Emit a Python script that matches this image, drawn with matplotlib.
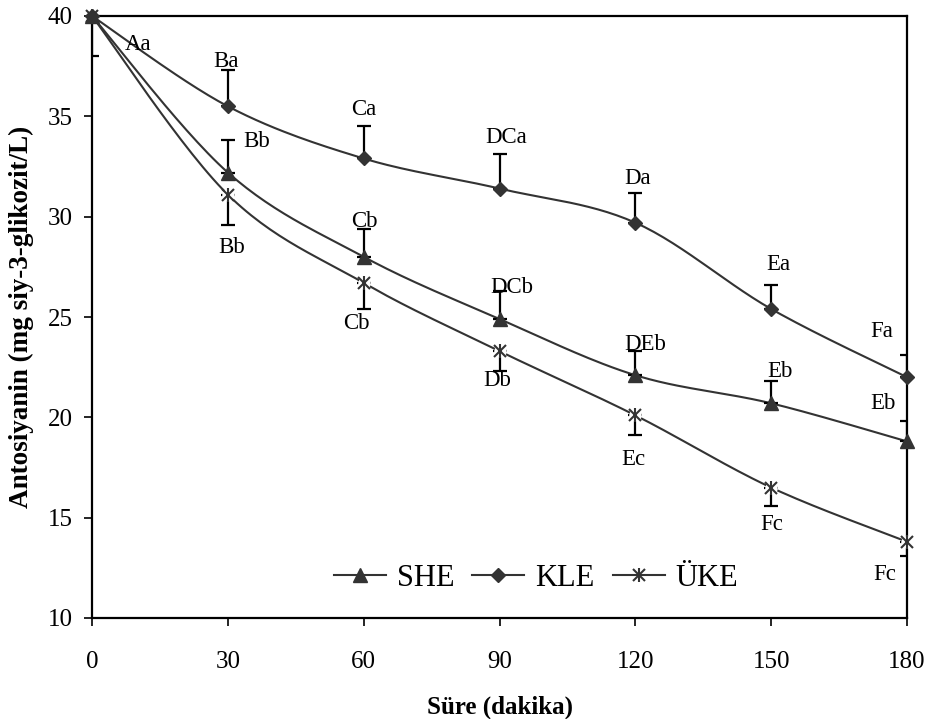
import numpy as np
import matplotlib
matplotlib.use("Agg")
import matplotlib.pyplot as plt
from matplotlib.lines import Line2D

plt.rcParams["font.family"] = ["Liberation Serif", "DejaVu Serif"]

# Sampling times (minutes) and anthocyanin content (mg cyanidin-3-glucoside / L)
time_min = [0, 30, 60, 90, 120, 150, 180]
she = [40.0, 32.2, 28.0, 24.9, 22.1, 20.7, 18.8]
kle = [40.0, 35.5, 32.9, 31.4, 29.7, 25.4, 22.0]
uke = [40.0, 31.1, 26.7, 23.3, 20.1, 16.5, 13.8]

# Standard deviations (SHE and KLE drawn upward, ÜKE drawn downward)
she_err = [0.0, 1.6, 1.4, 1.4, 1.2, 1.1, 1.0]
kle_err = [0.0, 1.8, 1.6, 1.7, 1.5, 1.2, 1.1]
uke_err = [2.0, 1.5, 1.3, 1.0, 1.0, 0.9, 0.7]

# Significance letters
she_letters = ["", "Bb", "Cb", "DCb", "DEb", "Eb", "Eb"]
kle_letters = ["Aa", "Ba", "Ca", "DCa", "Da", "Ea", "Fa"]
uke_letters = ["", "Bb", "Cb", "Db", "Ec", "Fc", "Fc"]

# Letter placement relative to each point (pixels: right, up)
she_offsets = [(0, 0), (29, 31), (1, 35), (12, 32), (10, 31), (9, 32), (-24, 38)]
kle_offsets = [(46, -28), (-2, 45), (0, 49), (7, 51), (2, 44), (7, 44), (-25, 46)]
uke_offsets = [(0, 0), (4, -53), (-7, -41), (-2, -29), (-2, -44), (1, -37), (-22, -33)]

series_names = ["SHE", "KLE", "ÜKE"]
line_color = "#333333"

W, H = 931, 719
fig = plt.figure(figsize=(W / 100, H / 100), dpi=100)
ax = fig.add_axes([92 / W, 1 - 618 / H, 815 / W, 602 / H])

ax.set_xlim(0, 180)
ax.set_ylim(10, 40)

# scale factors so the smoothing is done in screen-like proportions
SX, SY = 815 / 180.0, 602 / 30.0


def smooth(xs, ys, n=30):
    """Bezier smoothing through the points (Excel style smoothed line)."""
    P = np.column_stack([np.asarray(xs, float) * SX, np.asarray(ys, float) * SY])
    out = []
    m = len(P)
    for i in range(m - 1):
        p0 = P[max(i - 1, 0)]
        p1 = P[i]
        p2 = P[i + 1]
        p3 = P[min(i + 2, m - 1)]
        c1 = p1 + (p2 - p0) / 6.0
        c2 = p2 - (p3 - p1) / 6.0
        t = np.linspace(0, 1, n)[:, None]
        seg = ((1 - t) ** 3) * p1 + 3 * ((1 - t) ** 2) * t * c1 + 3 * (1 - t) * t ** 2 * c2 + t ** 3 * p2
        out.append(seg if i == 0 else seg[1:])
    out = np.vstack(out)
    return out[:, 0] / SX, out[:, 1] / SY


for ys in (she, kle, uke):
    sx, sy = smooth(time_min, ys)
    ax.plot(sx, sy, color=line_color, lw=1.5, zorder=2, solid_capstyle="butt")

# error bars
zeros = [0.0] * len(time_min)
err_kw = dict(fmt="none", ecolor="black", elinewidth=1.6, capsize=5, capthick=1.6, zorder=3)
ax.errorbar(time_min, she, yerr=[zeros, she_err], **err_kw)
ax.errorbar(time_min, kle, yerr=[zeros, kle_err], **err_kw)
ax.errorbar(time_min, uke, yerr=[uke_err, zeros], **err_kw)

# markers
ax.plot(time_min, uke, ls="none", marker="o", ms=9, mfc="white", mec="none", zorder=4, clip_on=False)
ax.plot(time_min, she, ls="none", marker="^", ms=10, mfc=line_color, mec=line_color, zorder=5, clip_on=False)
ax.plot(time_min, kle, ls="none", marker="D", ms=7, mfc=line_color, mec=line_color, zorder=5, clip_on=False)
ax.plot(time_min, uke, ls="none", marker="x", ms=8, mew=1.5, color=line_color, zorder=5, clip_on=False)
ax.plot(time_min, uke, ls="none", marker="|", ms=10, mew=1.5, color=line_color, zorder=5, clip_on=False)

# significance letters
for vals, letters, offs in ((kle, kle_letters, kle_offsets),
                            (she, she_letters, she_offsets),
                            (uke, uke_letters, uke_offsets)):
    for x, v, lab, (dx, dy) in zip(time_min, vals, letters, offs):
        if lab:
            ax.annotate(lab, xy=(x, v), xytext=(dx, dy), textcoords="offset pixels",
                        ha="center", va="center", fontsize=16.5, color="black", zorder=6,
                        annotation_clip=False)

# axes styling
for sp in ax.spines.values():
    sp.set_linewidth(1.6)
    sp.set_color("black")
ax.set_xticks(time_min)
ax.set_yticks([10, 15, 20, 25, 30, 35, 40])
ax.tick_params(axis="x", direction="out", length=6, width=1.2, pad=18, labelsize=18)
ax.tick_params(axis="y", direction="out", length=6, width=1.2, pad=8, labelsize=18)

ax.set_xlabel("Süre (dakika)", fontsize=18, fontweight="bold", labelpad=16)
ax.set_ylabel("Antosiyanin (mg siy-3-glikozit/L)", fontsize=19.5, fontweight="bold", labelpad=10)

# legend
h_she = Line2D([], [], color=line_color, lw=1.5, marker="^", ms=10, mfc=line_color, mec=line_color)
h_kle = Line2D([], [], color=line_color, lw=1.5, marker="D", ms=7, mfc=line_color, mec=line_color)
h_uke_x = Line2D([], [], color=line_color, lw=1.5, marker="x", ms=8, mew=1.5)
h_uke_v = Line2D([], [], color=line_color, lw=0, marker="|", ms=10, mew=1.5)
leg = ax.legend([h_she, h_kle, (h_uke_x, h_uke_v)], series_names, loc="center",
                bbox_to_anchor=((536 - 92) / 815, (618 - 578) / 602), ncol=3, frameon=False,
                fontsize=22, handlelength=1.7, handletextpad=0.35, columnspacing=0.6,
                borderpad=0.1)

fig.savefig("out.png", dpi=100, facecolor="white")
